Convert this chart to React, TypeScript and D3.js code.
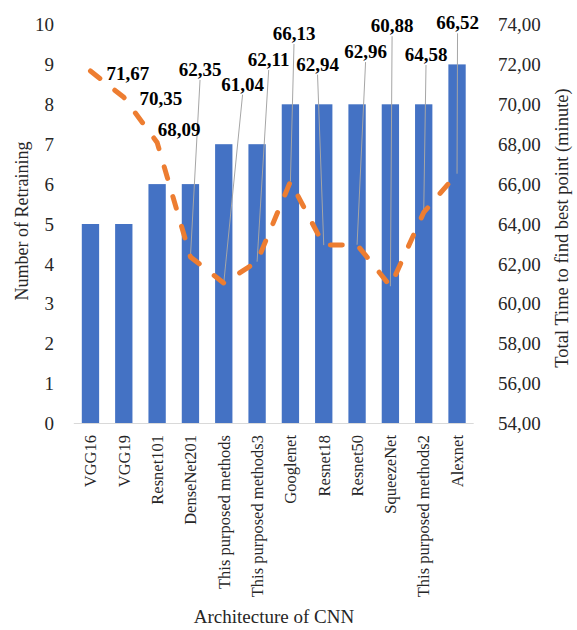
import React from "react";
import * as d3 from "d3";

const categories = [
  "VGG16",
  "VGG19",
  "Resnet101",
  "DenseNet201",
  "This purposed methods",
  "This purposed methods3",
  "Googlenet",
  "Resnet18",
  "Resnet50",
  "SqueezeNet",
  "This purposed methods2",
  "Alexnet",
];
const retrainingCounts = [5, 5, 6, 6, 7, 7, 8, 8, 8, 8, 8, 9];
const totalTimes = [71.67, 70.35, 68.09, 62.35, 61.04, 62.11, 66.13, 62.94, 62.96, 60.88, 64.58, 66.52];
const leftTicks = [0, 1, 2, 3, 4, 5, 6, 7, 8, 9, 10];
const rightTicks = [54, 56, 58, 60, 62, 64, 66, 68, 70, 72, 74];

// Manual data-label placement (pixel offsets from the point: dx to label center, dy to baseline)
const labelOffsets: [number, number][] = [
  [37.5, 9],
  [37, 7.7],
  [22, -6.4],
  [9.6, -181],
  [18.8, -192.4],
  [11.6, -195.7],
  [3.6, -141.5],
  [-6.2, -174.5],
  [8.5, -186.7],
  [1.7, -254],
  [2.3, -151.4],
  [0.5, -144.4],
];

const W = 577;
const H = 630;
const plotLeft = 73.8;
const plotRight = 473.7;
const plotTop = 24.5;
const plotBottom = 423.5;
const FONT = '"Liberation Serif", "Times New Roman", serif';
const fs = (size: number, extra: React.CSSProperties = {}): React.CSSProperties => ({
  fontFamily: FONT,
  fontSize: size,
  ...extra,
});

const fmt = (v: number) => v.toFixed(2).replace(".", ",");

export default function App() {
  const x = d3
    .scaleBand<string>()
    .domain(categories)
    .range([plotLeft, plotRight])
    .paddingInner(0.48)
    .paddingOuter(0.24);
  const yL = d3.scaleLinear().domain([0, 10]).range([plotBottom, plotTop]);
  const yR = d3.scaleLinear().domain([54, 74]).range([plotBottom, plotTop]);
  const cx = (c: string) => (x(c) as number) + x.bandwidth() / 2;

  const linePath = d3
    .line<number>()
    .x((_, i) => cx(categories[i]))
    .y((d) => yR(d))
    .curve(d3.curveLinear)(totalTimes) as string;

  return (
    <svg width={W} height={H} style={{ position: "absolute", left: 0, top: 0, background: "#fff" }}>
      <rect width={W} height={H} fill="#fff" />
      {categories.map((c, i) => (
        <rect
          key={c}
          x={x(c)}
          y={yL(retrainingCounts[i])}
          width={x.bandwidth()}
          height={yL(0) - yL(retrainingCounts[i])}
          fill="#4472C4"
        />
      ))}
      <line x1={plotLeft} x2={plotRight} y1={plotBottom} y2={plotBottom} stroke="#D9D9D9" strokeWidth={1} />
      {totalTimes.map((v, i) => {
        const [dx, dy] = labelOffsets[i];
        if (dy > -20) return null;
        const px = cx(categories[i]);
        const py = yR(v);
        return (
          <line key={"ld" + i} x1={px + dx} y1={py + dy + 4} x2={px} y2={py} stroke="#A6A6A6" strokeWidth={1} />
        );
      })}
      <path
        d={linePath}
        fill="none"
        stroke="#ED7D31"
        strokeWidth={5}
        strokeDasharray="12 19"
        strokeLinecap="round"
        strokeLinejoin="round"
      />
      {totalTimes.map((v, i) => {
        const [dx, dy] = labelOffsets[i];
        return (
          <text
            key={"lb" + i}
            x={cx(categories[i]) + dx}
            y={yR(v) + dy}
            textAnchor="middle"
            style={fs(19, { fontWeight: "bold" })}
            fill="#000"
          >
            {fmt(v)}
          </text>
        );
      })}
      {leftTicks.map((t) => (
        <text key={"l" + t} x={54} y={yL(t)} dy="0.35em" textAnchor="end" style={fs(19)} fill="#262626">
          {t}
        </text>
      ))}
      {rightTicks.map((t) => (
        <text key={"r" + t} x={498} y={yR(t)} dy="0.35em" textAnchor="start" style={fs(19)} fill="#262626">
          {fmt(t)}
        </text>
      ))}
      {categories.map((c) => (
        <text
          key={"x" + c}
          transform={`translate(${cx(c)},435) rotate(-90)`}
          textAnchor="end"
          dy="0.35em"
          style={fs(16.5)}
          fill="#262626"
        >
          {c}
        </text>
      ))}
      <text transform={`translate(22,221) rotate(-90)`} textAnchor="middle" dy="0.35em" style={fs(18)} fill="#262626">
        Number of Retraining
      </text>
      <text
        transform={`translate(562,228) rotate(-90)`}
        textAnchor="middle"
        dy="0.35em"
        style={fs(18.5)}
        fill="#262626"
      >
        Total Time to find best point (minute)
      </text>
      <text x={274} y={623} textAnchor="middle" style={fs(19)} fill="#262626">
        Architecture of CNN
      </text>
    </svg>
  );
}
